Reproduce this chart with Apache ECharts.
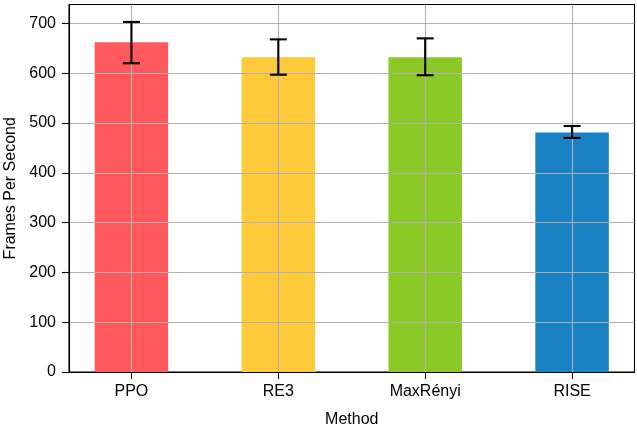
<!DOCTYPE html>
<html>
<head>
<meta charset="utf-8">
<script src="https://cdn.jsdelivr.net/npm/echarts@6/dist/echarts.min.js"></script>
<style>
  html, body { margin: 0; padding: 0; background: #fff; }
  #chart { width: 637px; height: 426px; }
</style>
</head>
<body>
<div id="chart"></div>
<script>
// Mean frames per second for each method, with error bar bounds
const methods = ['PPO', 'RE3', 'MaxRényi', 'RISE'];
const fpsMean = [662, 632, 632, 481];
const fpsLow = [620, 597, 596, 470];
const fpsHigh = [703, 668, 670, 494];
const barColors = ['#ff595e', '#ffca3a', '#8ac926', '#1982c4'];
const yTicks = [0, 100, 200, 300, 400, 500, 600, 700];
const xPositions = methods.map((_, i) => i);

const font = 'Liberation Sans, Arial, Helvetica, sans-serif';
const gridColor = '#b0b0b0';

const chart = echarts.init(document.getElementById('chart'), null, { renderer: 'canvas' });

chart.setOption({
  animation: false,
  backgroundColor: '#ffffff',
  grid: {
    left: 69, right: 2.5, top: 4.5, bottom: 54,
    containLabel: false,
    outerBoundsMode: 'none',
    show: true, borderColor: '#000', borderWidth: 1.1, backgroundColor: 'transparent'
  },
  xAxis: {
    type: 'value',
    min: -0.425,
    max: 3.425,
    z: 3,
    name: 'Method',
    nameLocation: 'middle',
    nameGap: 40,
    nameTextStyle: { fontFamily: font, fontSize: 16, color: '#000' },
    axisLine: { show: true, onZero: false, lineStyle: { color: '#000', width: 1.1 } },
    axisTick: { show: true, inside: false, length: 7, customValues: xPositions, lineStyle: { color: '#000', width: 1.1 } },
    axisLabel: {
      customValues: xPositions,
      margin: 11.5,
      fontFamily: font, fontSize: 16, color: '#000',
      formatter: v => methods[Math.round(v)] || ''
    },
    splitLine: { show: true, lineStyle: { color: gridColor, width: 1.1 } }
  },
  yAxis: {
    type: 'value',
    min: 0,
    max: 738,
    z: 3,
    name: 'Frames Per Second',
    nameLocation: 'middle',
    nameGap: 44,
    nameTextStyle: { fontFamily: font, fontSize: 16, color: '#000' },
    axisLine: { show: true, onZero: false, lineStyle: { color: '#000', width: 1.1 } },
    axisTick: { show: true, inside: false, length: 7, customValues: yTicks, lineStyle: { color: '#000', width: 1.1 } },
    axisLabel: { customValues: yTicks, margin: 13, fontFamily: font, fontSize: 16, color: '#000' },
    splitLine: { show: true, lineStyle: { color: gridColor, width: 1.1 } }
  },
  series: [
    {
      type: 'bar',
      z: 2,
      barWidth: 73.5,
      data: fpsMean.map((v, i) => ({ value: [i, v], itemStyle: { color: barColors[i] } }))
    },
    {
      type: 'custom',
      z: 10,
      data: fpsMean.map((_, i) => [i, fpsLow[i], fpsHigh[i]]),
      renderItem: (params, api) => {
        const lo = api.coord([api.value(0), api.value(1)]);
        const hi = api.coord([api.value(0), api.value(2)]);
        const cap = 8.5;
        const style = { stroke: '#000', lineWidth: 2.1 };
        return {
          type: 'group',
          children: [
            { type: 'line', shape: { x1: hi[0], y1: hi[1], x2: lo[0], y2: lo[1] }, style },
            { type: 'line', shape: { x1: hi[0] - cap, y1: hi[1], x2: hi[0] + cap, y2: hi[1] }, style },
            { type: 'line', shape: { x1: lo[0] - cap, y1: lo[1], x2: lo[0] + cap, y2: lo[1] }, style }
          ]
        };
      }
    }
  ]
});
</script>
</body>
</html>
